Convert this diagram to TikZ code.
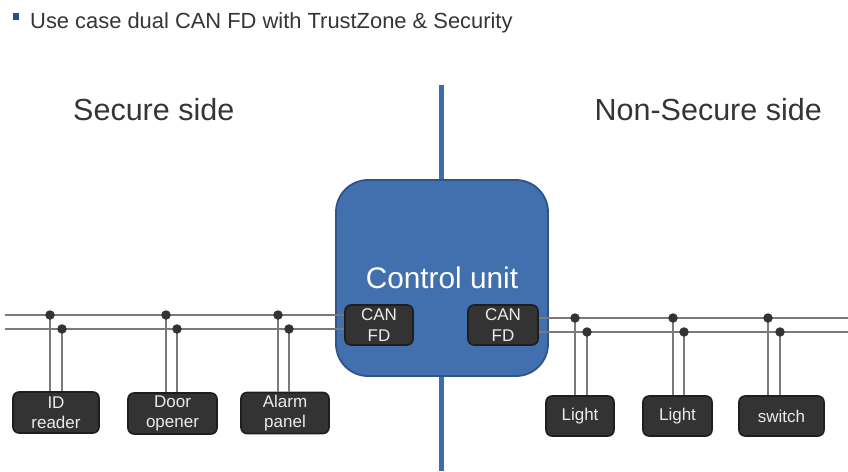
\documentclass[tikz,border=0pt]{standalone}
\usepackage{fontspec}
\setmainfont{Liberation Sans}
\definecolor{cublue}{HTML}{4270AE}
\definecolor{cuborder}{HTML}{2E5488}
\definecolor{vline}{HTML}{3D6BB0}
\definecolor{devfill}{HTML}{333333}
\definecolor{devborder}{HTML}{1E1E1E}
\definecolor{devtext}{HTML}{EBEBEB}
\definecolor{busgray}{HTML}{7A7A7A}
\definecolor{titletext}{HTML}{353535}
\definecolor{bulletblue}{HTML}{1F4E9A}
\begin{document}
\begin{tikzpicture}[x=1pt,y=-1pt,
  dev/.style={draw=devborder, line width=1.6pt, fill=devfill, rounded corners=6pt,
    text=devtext, font=\fontsize{17}{20.5}\selectfont, align=center, inner sep=0pt,
    minimum height=40pt},
  ctrl/.style={draw=cuborder, line width=1.8pt, fill=cublue, rounded corners=32pt,
    minimum width=212pt, minimum height=196pt, inner sep=0pt},
  bus/.style={draw=busgray, line width=1.6pt},
  dot/.style={circle, fill=devfill, inner sep=0pt, minimum size=9.5pt},
  sidelabel/.style={text=titletext, font=\fontsize{30.5}{35}\selectfont, inner sep=0pt}]
\useasboundingbox (0,0) rectangle (848,471);

% title
\node[fill=bulletblue, minimum width=6pt, minimum height=6.5pt, inner sep=0pt] (bullet) at (15.7,16.5) {};
\node[anchor=base west, inner sep=0pt, text=titletext, font=\fontsize{21.9}{26}\selectfont] (title) at (30,28)
  {Use case dual CAN FD with TrustZone \& Security};

% side labels
\node[sidelabel, anchor=base west] (secure) at (73,120) {Secure side};
\node[sidelabel, anchor=base east] (nonsecure) at (822,120) {Non-Secure side};

% divider
\coordinate (vtop) at (441.5,85);
\coordinate (vbot) at (441.5,471);
\draw[vline, line width=5pt] (vtop) -- (vbot);

% control unit
\node[ctrl] (cu) at (442,278) {};
\node[text=white, font=\fontsize{29.8}{34}\selectfont, anchor=base, inner sep=0pt] (cutext) at (442,288) {Control unit};
\node[dev, minimum width=68pt] (canL) at (379,325) {CAN\\FD};
\node[dev, minimum width=70pt] (canR) at (503,325) {CAN\\FD};

% devices
\node[dev, minimum width=86pt, minimum height=41pt] (idr) at (56,412.5) {ID\\reader};
\node[dev, minimum width=89pt, minimum height=41pt] (door) at (172.5,413.5) {Door\\opener};
\node[dev, minimum width=88pt, minimum height=41pt] (alarm) at (285,413) {Alarm\\panel};
\node[dev, minimum width=68pt] (light1) at (580,416) {Light};
\node[dev, minimum width=69pt] (light2) at (677.5,416) {Light};
\node[dev, minimum width=85pt] (switch) at (781.5,416) {switch};

% bus end points
\coordinate (busLa) at (5,315);
\coordinate (busLb) at (5,329);
\coordinate (busRa) at (848,318);
\coordinate (busRb) at (848,332);
\draw[bus] (busLa) -- (busLa -| canL.west);
\draw[bus] (busLb) -- (busLb -| canL.west);
\draw[bus] (canR.east |- busRa) -- (busRa);
\draw[bus] (canR.east |- busRb) -- (busRb);

% junctions
\coordinate (j1a) at (50,315);  \coordinate (j1b) at (62,329);
\coordinate (j2a) at (166,315); \coordinate (j2b) at (177,329);
\coordinate (j3a) at (278,315); \coordinate (j3b) at (289,329);
\coordinate (j4a) at (575,318); \coordinate (j4b) at (587,332);
\coordinate (j5a) at (673,318); \coordinate (j5b) at (684,332);
\coordinate (j6a) at (768,318); \coordinate (j6b) at (780,332);

\draw[bus] (j1a) -- (j1a |- idr.north);   \draw[bus] (j1b) -- (j1b |- idr.north);
\draw[bus] (j2a) -- (j2a |- door.north);  \draw[bus] (j2b) -- (j2b |- door.north);
\draw[bus] (j3a) -- (j3a |- alarm.north); \draw[bus] (j3b) -- (j3b |- alarm.north);
\draw[bus] (j4a) -- (j4a |- light1.north); \draw[bus] (j4b) -- (j4b |- light1.north);
\draw[bus] (j5a) -- (j5a |- light2.north); \draw[bus] (j5b) -- (j5b |- light2.north);
\draw[bus] (j6a) -- (j6a |- switch.north); \draw[bus] (j6b) -- (j6b |- switch.north);

\foreach \j in {j1a,j1b,j2a,j2b,j3a,j3b,j4a,j4b,j5a,j5b,j6a,j6b}
  \node[dot] (dot-\j) at (\j) {};
\end{tikzpicture}
\end{document}
